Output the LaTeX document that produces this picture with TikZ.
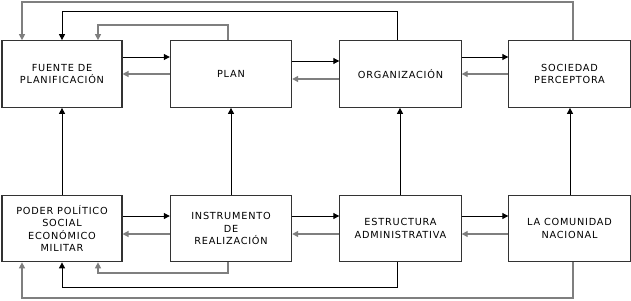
\documentclass[tikz,border=0pt]{standalone}
\usepackage{fontspec}
\setmainfont{DejaVu Sans}[LetterSpace=8]
\usetikzlibrary{arrows.meta}
\definecolor{bordc}{HTML}{333333}
\definecolor{backc}{HTML}{7F7F7F}
\begin{document}
\begin{tikzpicture}[x=0.75pt,y=-0.75pt,
  box/.style={draw=bordc,line width=0.8pt,rectangle,minimum width=91pt,minimum height=50pt,inner sep=0pt,align=center,font=\fontsize{7.3}{9.4}\selectfont},
  fwd/.style={draw=black,line width=0.75pt,-{Triangle[length=4.5pt,width=4.5pt]}},
  bck/.style={draw=backc,line width=0.9pt,-{Triangle[length=4.5pt,width=4.5pt]}}]
\useasboundingbox (0,0) rectangle (631,300);
\fill[white] (0,0) rectangle (631,300);
% top row
\node[box,minimum width=90pt] (a1) at (62,74) {FUENTE DE\\PLANIFICACIÓN};
\node[box] (a2) at (231,74) {PLAN};
\node[box] (a3) at (400.5,74) {ORGANIZACIÓN};
\node[box] (a4) at (569.5,74) {SOCIEDAD\\PERCEPTORA};
% bottom row
\node[box,minimum width=90pt] (c1) at (62,228.5) {PODER POLÍTICO\\SOCIAL\\ECONÓMICO\\MILITAR};
\node[box] (c2) at (231,228.5) {INSTRUMENTO\\DE\\REALIZACIÓN};
\node[box] (c3) at (400.5,228.5) {ESTRUCTURA\\ADMINISTRATIVA};
\node[box] (c4) at (569.5,228.5) {LA COMUNIDAD\\NACIONAL};
% top horizontal
\draw[fwd] (a1.east |- 0,57) -- (a2.west |- 0,57);
\draw[bck] (a2.west |- 0,74) -- (a1.east |- 0,74);
\draw[fwd] (a2.east |- 0,61) -- (a3.west |- 0,61);
\draw[bck] (a3.west |- 0,79) -- (a2.east |- 0,79);
\draw[fwd] (a3.east |- 0,57) -- (a4.west |- 0,57);
\draw[bck] (a4.west |- 0,74) -- (a3.east |- 0,74);
% bottom horizontal
\draw[fwd] (c1.east |- 0,216) -- (c2.west |- 0,216);
\draw[bck] (c2.west |- 0,234) -- (c1.east |- 0,234);
\draw[fwd] (c2.east |- 0,216) -- (c3.west |- 0,216);
\draw[bck] (c3.west |- 0,234) -- (c2.east |- 0,234);
\draw[fwd] (c3.east |- 0,216) -- (c4.west |- 0,216);
\draw[bck] (c4.west |- 0,234) -- (c3.east |- 0,234);
% verticals
\draw[fwd] (c1.north) -- (a1.south);
\draw[fwd] (c2.north) -- (a2.south);
\draw[fwd] (c3.north -| 400,0) -- (a3.south -| 400,0);
\draw[fwd] (c4.north -| 570,0) -- (a4.south -| 570,0);
% top loops
\draw[bck] (a4.north -| 573,0) |- (22,2) -- (22,0 |- a1.north);
\draw[fwd] (a3.north -| 397,0) |- (62,11) -- (a1.north);
\draw[bck] (a2.north -| 228,0) |- (98,25) -- (98,0 |- a1.north);
% bottom loops
\draw[bck] (c2.south -| 228,0) |- (98,273) -- (98,0 |- c1.south);
\draw[fwd] (c3.south -| 397,0) |- (62,287) -- (c1.south);
\draw[bck] (c4.south -| 573,0) |- (22,298) -- (22,0 |- c1.south);
\end{tikzpicture}
\end{document}
